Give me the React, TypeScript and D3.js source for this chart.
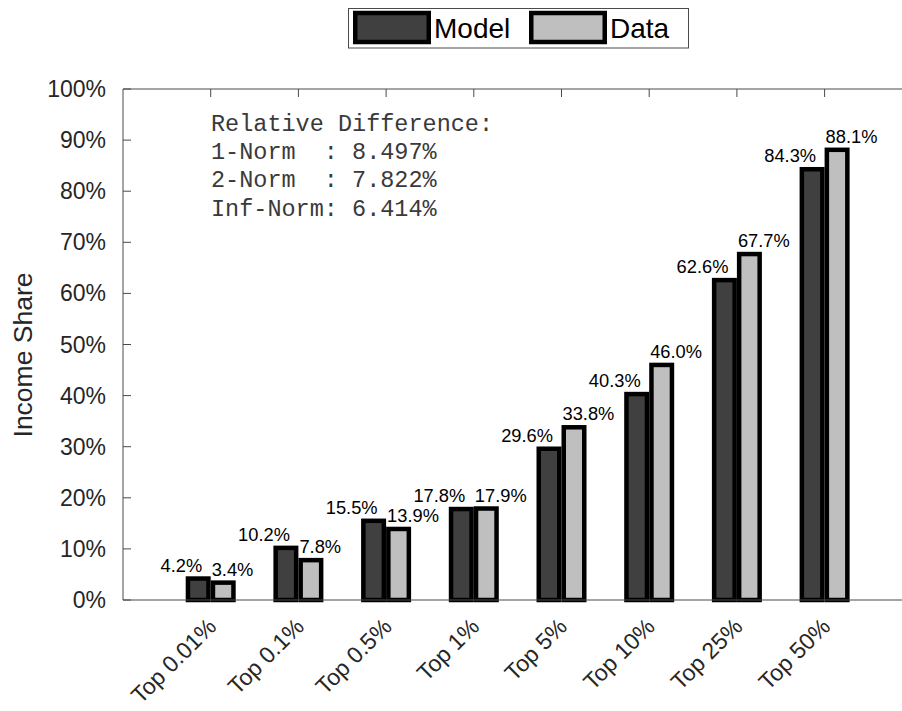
import React from "react";
import * as d3 from "d3";

// Income share by top group: model vs. data
const categories = ["Top 0.01%", "Top 0.1%", "Top 0.5%", "Top 1%", "Top 5%", "Top 10%", "Top 25%", "Top 50%"];
const modelValues = [4.2, 10.2, 15.5, 17.8, 29.6, 40.3, 62.6, 84.3];
const dataValues = [3.4, 7.8, 13.9, 17.9, 33.8, 46.0, 67.7, 88.1];
const seriesNames = ["Model", "Data"];
const seriesFills = ["#404040", "#bfbfbf"];
const yTicks = [0, 10, 20, 30, 40, 50, 60, 70, 80, 90, 100];
const noteLines = ["Relative Difference:", "1-Norm  : 8.497%", "2-Norm  : 7.822%", "Inf-Norm: 6.414%"];

const W = 902;
const H = 711;
const left = 123;
const top = 89;
const bottom = 600;
const step = 87.7;
const right = left + step * (categories.length + 1);

const SANS = "'Liberation Sans', Arial, Helvetica, sans-serif";
const MONO = "'Liberation Mono', 'Courier New', monospace";
const AXIS = "#4a4a4a";
const TEXT = "#262626";

export default function App() {
  const x = d3.scalePoint<string>().domain(categories).range([left + step, left + step * categories.length]);
  const inner = d3.scaleBand<string>().domain(seriesNames).range([-25, 25]).padding(0);
  const y = d3.scaleLinear().domain([0, 100]).range([bottom, top]);
  const sw = 4.5;
  const series = [modelValues, dataValues];
  const fmt = (v: number) => v.toFixed(1) + "%";

  return (
    <svg width={W} height={H} style={{ position: "absolute", left: 0, top: 0, display: "block", background: "#fff" }}>
      {/* plot frame */}
      <line x1={left} x2={left} y1={top} y2={bottom} stroke={AXIS} strokeWidth={1} />
      <line x1={left} x2={right} y1={top} y2={top} stroke={AXIS} strokeWidth={1} />
      <line x1={right} x2={right} y1={top} y2={bottom} stroke={AXIS} strokeWidth={1} />

      {/* y ticks */}
      {yTicks.map((t) => (
        <g key={t}>
          <line x1={left} x2={left + 8} y1={y(t)} y2={y(t)} stroke={AXIS} />
          <text x={left - 17} y={y(t)} dy="0.35em" textAnchor="end" fontFamily={SANS} fontSize={23} fill={TEXT}>
            {t}%
          </text>
        </g>
      ))}

      {/* top ticks */}
      {categories.map((c) => (
        <line key={c} x1={x(c)!} x2={x(c)!} y1={top} y2={top + 8} stroke={AXIS} />
      ))}

      {/* bars */}
      {categories.map((c, i) => (
        <g key={c} transform={`translate(${x(c)},0)`}>
          {series.map((vals, s) => {
            const bx = inner(seriesNames[s])!;
            const v = vals[i];
            return (
              <rect
                key={s}
                x={bx + sw / 2}
                y={y(v)}
                width={inner.bandwidth() - sw}
                height={y(0) - y(v)}
                fill={seriesFills[s]}
                stroke="#000"
                strokeWidth={sw}
              />
            );
          })}
          <text x={-8.5} y={y(modelValues[i]) - 7} textAnchor="end" fontFamily={SANS} fontSize={18.3} fill="#000">
            {fmt(modelValues[i])}
          </text>
          <text x={1} y={y(dataValues[i]) - 7} textAnchor="start" fontFamily={SANS} fontSize={18.3} fill="#000">
            {fmt(dataValues[i])}
          </text>
        </g>
      ))}

      {/* baseline */}
      <line x1={left} x2={right} y1={bottom} y2={bottom} stroke={AXIS} strokeWidth={1} />

      {/* x labels */}
      {categories.map((c) => (
        <text
          key={c}
          transform={`translate(${x(c)! + 7},${bottom + 28}) rotate(-45)`}
          textAnchor="end"
          fontFamily={SANS}
          fontSize={23}
          fill={TEXT}
        >
          {c}
        </text>
      ))}

      {/* y axis title */}
      <text
        transform={`translate(23,355) rotate(-90)`}
        textAnchor="middle"
        dominantBaseline="central"
        fontFamily={SANS}
        fontSize={26.5}
        fill={TEXT}
      >
        Income Share
      </text>

      {/* note */}
      {noteLines.map((l, i) => (
        <text
          key={i}
          x={211}
          y={131 + i * 28.2}
          fontFamily={MONO}
          fontSize={23.5}
          fill="#3a3a3a"
          style={{ whiteSpace: "pre" }}
        >
          {l}
        </text>
      ))}

      {/* legend */}
      <g>
        <rect x={348.5} y={8.5} width={340} height={39.5} fill="#fff" stroke={AXIS} strokeWidth={1} />
        {seriesNames.map((n, s) => {
          const lx = s === 0 ? 353 : 529;
          return (
            <g key={n}>
              <rect x={lx + 2.25} y={13} width={78 - 4.5} height={29} fill={seriesFills[s]} stroke="#000" strokeWidth={sw} />
              <text x={lx + 81} y={28} dy="0.36em" fontFamily={SANS} fontSize={28} fill="#000">
                {n}
              </text>
            </g>
          );
        })}
      </g>
    </svg>
  );
}
